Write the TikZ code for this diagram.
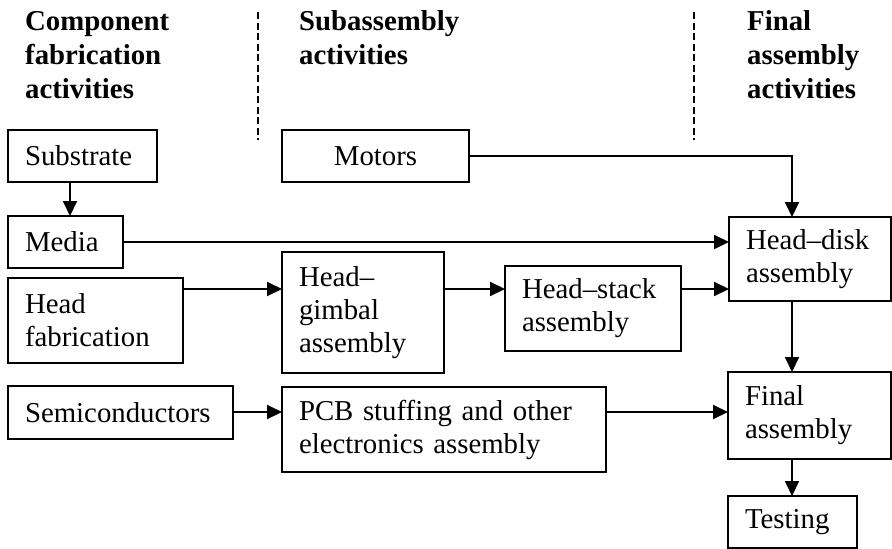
\documentclass[tikz,border=0pt]{standalone}
\usepackage{fontspec}
\setmainfont{Liberation Serif}
\usetikzlibrary{arrows.meta}

\tikzset{
  x=1pt, y=-1pt,
  box/.style={draw, line width=2pt, outer sep=0pt, inner xsep=17pt, inner ysep=0pt,
    anchor=north west, align=left,
    font=\fontsize{28.8}{33}\selectfont},
  arr/.style={line width=2pt, -{Triangle[length=15pt,width=14pt]}},
  divider/.style={line width=2pt, dash pattern=on 7pt off 3.5pt},
  heading/.style={anchor=base west, inner sep=0pt,
    font=\fontsize{28.8}{34}\selectfont\bfseries},
}

\begin{document}
\begin{tikzpicture}
\useasboundingbox (0,0) rectangle (892,549);

% column headings
\node[heading] (hcomp) at (25,30)
  {\begin{tabular}[t]{@{}l@{}}Component\\fabrication\\activities\end{tabular}};
\node[heading] (hsub) at (299,30)
  {\begin{tabular}[t]{@{}l@{}}Subassembly\\activities\end{tabular}};
\node[heading] (hfin) at (747,30)
  {\begin{tabular}[t]{@{}l@{}}Final\\assembly\\activities\end{tabular}};

% column separators
\draw[divider] (258,12) -- (258,140);
\draw[divider] (694,12) -- (694,140);

% reference rows/columns for connectors
\coordinate (row) at (0,289);
\coordinate (row2) at (0,412);
\coordinate (col) at (792,0);
\coordinate (subcol) at (70,0);

% activity boxes
\node[box, minimum width=149, minimum height=52, text width=115] (sub) at (8,130) {Substrate};
\node[box, minimum width=187, minimum height=52, text width=153, align=center] (mot) at (282,130) {Motors};
\node[box, minimum width=115, minimum height=52, text width=81] (med) at (8,216) {Media};
\node[box, minimum width=175, minimum height=85, text width=141] (hf) at (8,278) {Head\\fabrication};
\node[box, minimum width=162, minimum height=121, text width=128] (hg) at (282,252) {Head–\\gimbal\\assembly};
\node[box, minimum width=176, minimum height=85, text width=142] (hs) at (505,266) {Head–stack\\assembly};
\node[box, minimum width=162, minimum height=84, text width=128] (hd) at (729,217) {Head–disk\\assembly};
\node[box, minimum width=225, minimum height=53, text width=191] (semi) at (8,386) {Semiconductors};
\node[box, minimum width=324, minimum height=85, text width=290] (pcb) at (282,387) {PCB stuffing and other\\electronics assembly};
\node[box, minimum width=163, minimum height=87, text width=129] (fa) at (728,372) {Final\\assembly};
\node[box, minimum width=129, minimum height=52, text width=95] (tst) at (728,496) {Testing};

% flows
\draw[arr] (sub.south -| subcol) -- (med.north -| subcol);
\draw[arr] (mot.east) -| (hd.north -| col);
\draw[arr] (med.east) -- (med.east -| hd.west);
\draw[arr] (hf.east |- row) -- (hg.west |- row);
\draw[arr] (hg.east |- row) -- (hs.west |- row);
\draw[arr] (hs.east |- row) -- (hd.west |- row);
\draw[arr] (hd.south -| col) -- (fa.north -| col);
\draw[arr] (semi.east |- row2) -- (pcb.west |- row2);
\draw[arr] (pcb.east |- row2) -- (fa.west |- row2);
\draw[arr] (fa.south -| col) -- (tst.north -| col);
\end{tikzpicture}
\end{document}
